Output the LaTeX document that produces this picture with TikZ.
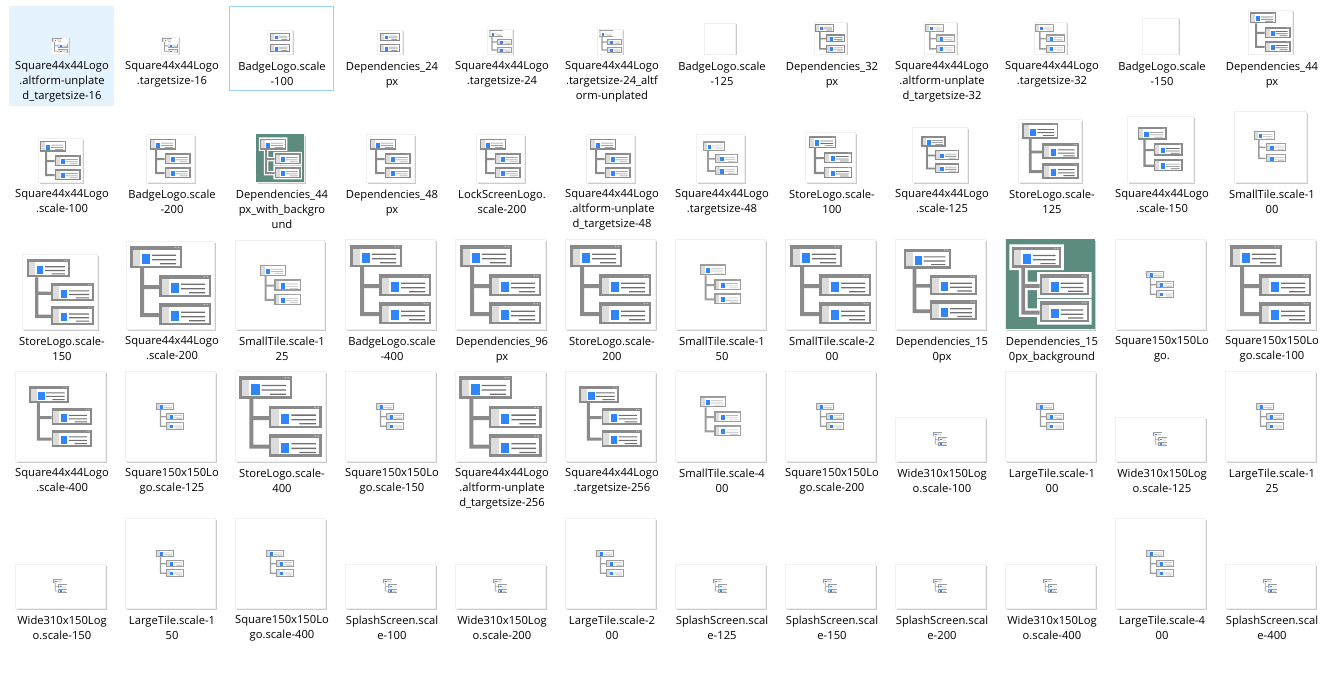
\documentclass[tikz,border=0pt]{standalone}
\usepackage{fontspec}
\setmainfont{Open Sans}
\definecolor{framegray}{HTML}{8A8A8A}
\definecolor{stripgray}{HTML}{DCDCDC}
\definecolor{dotgray}{HTML}{C4C4C4}
\definecolor{lineblue}{HTML}{2F86FB}
\definecolor{linegray}{HTML}{707070}
\definecolor{platedge}{HTML}{F0F0F0}
\definecolor{platshadow}{HTML}{CBCBCB}
\definecolor{tealbg}{HTML}{5C8B80}
\definecolor{pickfill}{HTML}{E5F3FF}
\definecolor{pickedge}{HTML}{99D1FF}
\tikzset{
    filename/.style={anchor=north,align=center,inner sep=0pt,font=\fontsize{11.2}{15}\selectfont,execute at begin node=\strut},
    plate/.style={fill=white,draw=platedge,line width=.6pt},
    plateshadow/.style={fill=platshadow},
}
% one window of the tree, 52 by 22 units
\newcommand{\logobox}[2]{
    \begin{scope}[shift={(#1,#2)}]
        \fill[framegray] (0,0) rectangle (52,22);
        \fill[white] (2.5,3.5) rectangle (49.5,19.5);
        \fill[stripgray] (2.5,3.5) rectangle (10,19.5);
        \fill[dotgray] (44.5,1) rectangle (46,2.2) (47.5,1) rectangle (49,2.2);
        \fill[lineblue] (12,8) rectangle (20,18);
        \fill[linegray] (22,8.5) rectangle (46,9.8) (22,13) rectangle (46,14.3) (30,17) rectangle (46,18.3);
    \end{scope}
}
% the whole tree in a box of 88 units, centred on the tile
\newcommand{\deplogo}[1]{
    \begin{scope}[scale=#1/88,shift={(-44,-43)}]
        \fill[framegray] (14,26) rectangle (18,75) (14,43) rectangle (33,47) (14,71) rectangle (33,75);
        \logobox{4}{4}
        \logobox{33}{33}
        \logobox{33}{61}
    \end{scope}
}
% small logos come out paler, only the blue stays
\newcommand{\faintlogo}[1]{
    \begin{scope}
        \colorlet{framegray}{framegray!85!white}
        \colorlet{linegray}{linegray!50!white}
        \deplogo{#1}
    \end{scope}
}
\newcommand{\greenlogo}[1]{
    \fill[tealbg] (-\platew/2,-\plateh/2) rectangle (\platew/2,\plateh/2);
    \begin{scope}[scale=#1/88,shift={(-44,-43)}]
        \fill[white] (1.5,1.5) rectangle (58.5,28.5) (30.5,30.5) rectangle (87.5,57.5) (30.5,58.5) rectangle (87.5,85.5);
        \fill[white] (11.5,26) rectangle (20.5,77.5) (11.5,40.5) rectangle (33,49.5) (11.5,68.5) rectangle (33,77.5);
    \end{scope}
    \deplogo{#1}
}
\newcommand{\badgelogo}[1]{
    \begin{scope}[scale=.37]
        \logobox{-26}{-25}
        \logobox{-26}{5}
    \end{scope}
}
\newcommand{\nologo}[1]{}
% col, plate width, plate height, logo size, logo kind, file name
\newcommand{\thumb}[6]{
    \pgfmathsetmacro\cx{62+110*(#1-1)}
    \pgfmathsetmacro\lx{\cx-2-#2/2}
    \pgfmathsetmacro\rx{\cx-2+#2/2}
    \def\platew{#2}
    \def\plateh{#3}
    \fill[plateshadow] (\lx+1.5,1.5-#3) rectangle (\rx+1.5,1.5);
    \filldraw[plate] (\lx,-#3) rectangle (\rx,0);
    \begin{scope}[shift={(\cx-2,-#3/2)}]
        #5{#4}
    \end{scope}
    \node[filename] (name#1) at (\cx,7.5) {#6};
}
\begin{document}
\begin{tikzpicture}[x=1pt,y=-1pt]
\useasboundingbox (0,0) rectangle (1328,677);
\fill[white] (0,0) rectangle (1328,677);
\fill[pickfill] (9,6) rectangle (114,106);
\draw[pickedge,line width=1pt] (229.5,6.5) rectangle (333.5,90.5);

\begin{scope}[shift={(0,54)},name prefix=rowa-]
    \thumb{1}{17}{17}{17}{\faintlogo}{Square44x44Logo\\.altform-unplate\\d\_targetsize-16}
    \thumb{2}{17}{17}{17}{\faintlogo}{Square44x44Logo\\.targetsize-16}
    \thumb{3}{25}{24}{24}{\badgelogo}{BadgeLogo.scale\\-100}
    \thumb{4}{25}{24}{24}{\badgelogo}{Dependencies\_24\\px}
    \thumb{5}{25}{25}{25}{\faintlogo}{Square44x44Logo\\.targetsize-24}
    \thumb{6}{25}{25}{25}{\faintlogo}{Square44x44Logo\\.targetsize-24\_altf\\orm-unplated}
    \thumb{7}{31}{31}{0}{\nologo}{BadgeLogo.scale\\-125}
    \thumb{8}{32}{32}{32}{\deplogo}{Dependencies\_32\\px}
    \thumb{9}{32}{32}{32}{\faintlogo}{Square44x44Logo\\.altform-unplate\\d\_targetsize-32}
    \thumb{10}{32}{32}{32}{\faintlogo}{Square44x44Logo\\.targetsize-32}
    \thumb{11}{36}{36}{0}{\nologo}{BadgeLogo.scale\\-150}
    \thumb{12}{44}{44}{44}{\deplogo}{Dependencies\_44\\px}
\end{scope}

\begin{scope}[shift={(0,182)},name prefix=rowb-]
    \thumb{1}{44}{44}{44}{\deplogo}{Square44x44Logo\\.scale-100}
    \thumb{2}{48}{48}{44}{\deplogo}{BadgeLogo.scale\\-200}
    \thumb{3}{48}{48}{44}{\greenlogo}{Dependencies\_44\\px\_with\_backgro\\und}
    \thumb{4}{48}{48}{44}{\deplogo}{Dependencies\_48\\px}
    \thumb{5}{48}{48}{44}{\deplogo}{LockScreenLogo.\\scale-200}
    \thumb{6}{48}{48}{44}{\deplogo}{Square44x44Logo\\.altform-unplate\\d\_targetsize-48}
    \thumb{7}{48}{48}{38}{\faintlogo}{Square44x44Logo\\.targetsize-48}
    \thumb{8}{50}{50}{47}{\deplogo}{StoreLogo.scale-\\100}
    \thumb{9}{55}{55}{41}{\deplogo}{Square44x44Logo\\.scale-125}
    \thumb{10}{63}{63}{62}{\deplogo}{StoreLogo.scale-\\125}
    \thumb{11}{66}{66}{49}{\deplogo}{Square44x44Logo\\.scale-150}
    \thumb{12}{72}{71}{35}{\faintlogo}{SmallTile.scale-1\\00}
\end{scope}

\begin{scope}[shift={(0,329)},name prefix=rowc-]
    \thumb{1}{75}{75}{73}{\deplogo}{StoreLogo.scale-\\150}
    \thumb{2}{88}{88}{88}{\deplogo}{Square44x44Logo\\.scale-200}
    \thumb{3}{89}{89}{45}{\faintlogo}{SmallTile.scale-1\\25}
    \thumb{4}{90}{90}{88}{\deplogo}{BadgeLogo.scale\\-400}
    \thumb{5}{90}{90}{88}{\deplogo}{Dependencies\_96\\px}
    \thumb{6}{90}{90}{88}{\deplogo}{StoreLogo.scale-\\200}
    \thumb{7}{90}{90}{45}{\faintlogo}{SmallTile.scale-1\\50}
    \thumb{8}{90}{90}{88}{\deplogo}{SmallTile.scale-2\\00}
    \thumb{9}{90}{90}{80}{\deplogo}{Dependencies\_15\\0px}
    \thumb{10}{89}{90}{84}{\greenlogo}{Dependencies\_15\\0px\_background}
    \thumb{11}{90}{90}{30}{\faintlogo}{Square150x150Lo\\go.}
    \thumb{12}{90}{90}{88}{\deplogo}{Square150x150Lo\\go.scale-100}
\end{scope}

\begin{scope}[shift={(0,461)},name prefix=rowd-]
    \thumb{1}{90}{90}{68}{\deplogo}{Square44x44Logo\\.scale-400}
    \thumb{2}{90}{90}{30}{\faintlogo}{Square150x150Lo\\go.scale-125}
    \thumb{3}{90}{90}{90}{\deplogo}{StoreLogo.scale-\\400}
    \thumb{4}{90}{90}{30}{\faintlogo}{Square150x150Lo\\go.scale-150}
    \thumb{5}{90}{90}{90}{\deplogo}{Square44x44Logo\\.altform-unplate\\d\_targetsize-256}
    \thumb{6}{90}{90}{68}{\deplogo}{Square44x44Logo\\.targetsize-256}
    \thumb{7}{90}{90}{45}{\faintlogo}{SmallTile.scale-4\\00}
    \thumb{8}{90}{90}{30}{\faintlogo}{Square150x150Lo\\go.scale-200}
    \thumb{9}{90}{44}{15}{\faintlogo}{Wide310x150Log\\o.scale-100}
    \thumb{10}{90}{90}{30}{\faintlogo}{LargeTile.scale-1\\00}
    \thumb{11}{90}{44}{15}{\faintlogo}{Wide310x150Log\\o.scale-125}
    \thumb{12}{90}{90}{30}{\faintlogo}{LargeTile.scale-1\\25}
\end{scope}

\begin{scope}[shift={(0,608)},name prefix=rowe-]
    \thumb{1}{90}{44}{15}{\faintlogo}{Wide310x150Log\\o.scale-150}
    \thumb{2}{90}{90}{30}{\faintlogo}{LargeTile.scale-1\\50}
    \thumb{3}{90}{90}{30}{\faintlogo}{Square150x150Lo\\go.scale-400}
    \thumb{4}{90}{44}{15}{\faintlogo}{SplashScreen.scal\\e-100}
    \thumb{5}{90}{44}{15}{\faintlogo}{Wide310x150Log\\o.scale-200}
    \thumb{6}{90}{90}{30}{\faintlogo}{LargeTile.scale-2\\00}
    \thumb{7}{90}{44}{15}{\faintlogo}{SplashScreen.scal\\e-125}
    \thumb{8}{90}{44}{15}{\faintlogo}{SplashScreen.scal\\e-150}
    \thumb{9}{90}{44}{15}{\faintlogo}{SplashScreen.scal\\e-200}
    \thumb{10}{90}{44}{15}{\faintlogo}{Wide310x150Log\\o.scale-400}
    \thumb{11}{90}{90}{30}{\faintlogo}{LargeTile.scale-4\\00}
    \thumb{12}{90}{44}{15}{\faintlogo}{SplashScreen.scal\\e-400}
\end{scope}
\end{tikzpicture}
\end{document}
